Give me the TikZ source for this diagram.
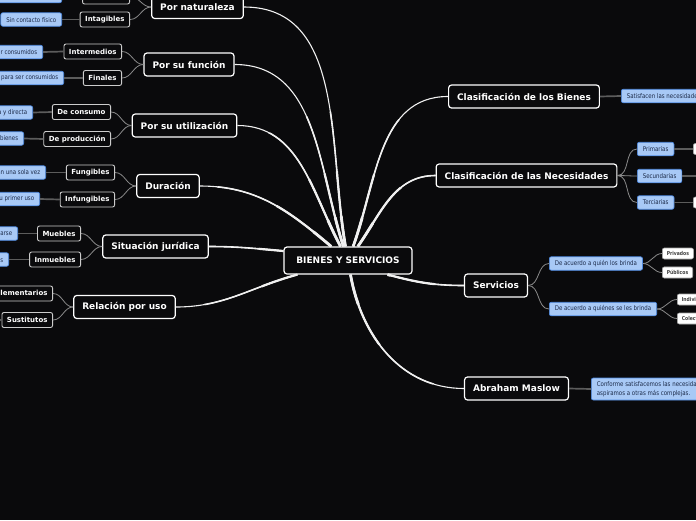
\documentclass[tikz,border=0pt]{standalone}
\usepackage{fontspec}
\setmainfont{DejaVu Sans}
\newfontfamily\notefont[FakeStretch=0.84]{DejaVu Sans}
\definecolor{canvas}{HTML}{0A0A0C}
\definecolor{notefill}{HTML}{A8C9F6}
\definecolor{noteline}{HTML}{4F8BE3}
\definecolor{notetext}{HTML}{1C2A48}
\definecolor{branchgray}{HTML}{8A8A8A}
\definecolor{stubgray}{HTML}{5C5C5C}
% the ten main connectors, drawn once per width
\newcommand{\drawtrunks}[1]{%
    \draw[#1] (naturaleza.east) to[out=0,in=100] (root);
    \draw[#1] (funcion.east) to[out=0,in=108] (root);
    \draw[#1] (utilizacion.east) to[out=0,in=118] (root);
    \draw[#1] (duracion.east) to[out=0,in=140] (root);
    \draw[#1] (situacion.east) to[out=0,in=175] ([yshift=9.5pt]root.west);
    \draw[#1] (relacion.east) to[out=0,in=195] ([xshift=14pt]root.south west);
    \draw[#1] (bienes.west) to[out=180,in=70] (root);
    \draw[#1] (necesidades.west) to[out=180,in=55] (root);
    \draw[#1] (servicios.west) to[out=180,in=-15] ([xshift=-25pt]root.south east);
    \draw[#1] (maslow.west) to[out=180,in=-80] (root);
}
\begin{document}
\begin{tikzpicture}[
        x=1pt, y=1pt,
        root box/.style={
            draw=white,
            line width=1.2pt,
            fill=canvas,
            rounded corners=3pt,
            text=white,
            minimum width=128pt,
            minimum height=27pt,
            font=\bfseries\fontsize{9}{10}\selectfont
        },
        topic box/.style={
            draw=white,
            line width=1.2pt,
            fill=canvas,
            rounded corners=3pt,
            text=white,
            inner xsep=8.5pt,
            minimum height=23pt,
            font=\bfseries\fontsize{9}{10}\selectfont
        },
        sub box/.style={
            draw=white!80!black,
            line width=0.9pt,
            fill=canvas,
            rounded corners=2pt,
            text=white,
            inner xsep=5pt,
            minimum height=15pt,
            font=\bfseries\fontsize{7}{8}\selectfont
        },
        note box/.style={
            draw=noteline,
            line width=0.7pt,
            fill=notefill,
            rounded corners=2pt,
            text=notetext,
            inner xsep=5.5pt,
            minimum height=13.5pt,
            font=\notefont\fontsize{6.5}{8.5}\selectfont
        },
        leaf box/.style={
            draw=white!65!black,
            line width=0.6pt,
            fill=white,
            rounded corners=2pt,
            text=black!75,
            inner xsep=4.5pt,
            minimum height=11pt,
            font=\notefont\bfseries\fontsize{5.4}{6}\selectfont
        },
        trunk/.style={white!94!black, line width=1.1pt},
        branch/.style={branchgray, line width=0.8pt},
        stub/.style={stubgray, line width=1.7pt}
    ]
        \useasboundingbox (0,0) rectangle (696,-520);
        \fill[canvas] (0,0) rectangle (696,-520);
        \clip (0,0) rectangle (696,-520);

        % centre
        \node[root box] (root) at (348,-260.5) {BIENES Y SERVICIOS};

        % left topics
        \node[topic box] (naturaleza) at (197.5,-7) {Por naturaleza};
        \node[topic box] (funcion) at (189,-64.5) {Por su función};
        \node[topic box] (utilizacion) at (184.5,-125.5) {Por su utilización};
        \node[topic box] (duracion) at (168,-186) {Duración};
        \node[topic box] (situacion) at (155.5,-246.5) {Situación jurídica};
        \node[topic box] (relacion) at (124.5,-307) {Relación por uso};

        % right topics
        \node[topic box] (bienes) at (524,-96.5) {Clasificación de los Bienes};
        \node[topic box] (necesidades) at (526.5,-175.5) {Clasificación de las Necesidades};
        \node[topic box] (servicios) at (496,-285.5) {Servicios};
        \node[topic box] (maslow) at (516.5,-388.5) {Abraham Maslow};

        % left sub topics
        \node[sub box, anchor=east, minimum width=47pt] (tangibles) at (130,3.5) {};
        \node[sub box, anchor=east] (intangibles) at (130,-19.5) {Intagibles};
        \node[sub box, anchor=east] (intermedios) at (122,-51.5) {Intermedios};
        \node[sub box, anchor=east] (finales) at (122,-78) {Finales};
        \node[sub box, anchor=east] (consumo) at (111,-112) {De consumo};
        \node[sub box, anchor=east] (produccion) at (111,-139) {De producción};
        \node[sub box, anchor=east] (fungibles) at (115,-172.5) {Fungibles};
        \node[sub box, anchor=east] (infungibles) at (115,-199.5) {Infungibles};
        \node[sub box, anchor=east] (muebles) at (81,-233.5) {Muebles};
        \node[sub box, anchor=east] (inmuebles) at (81,-259.5) {Inmuebles};
        \node[sub box, anchor=east] (complementarios) at (53,-293.5) {Complementarios};
        \node[sub box, anchor=east] (sustitutos) at (53,-320) {Sustitutos};
        \coordinate (sustitutosnote) at (-6,-320);

        % left notes
        \node[note box, anchor=east, minimum width=70pt] (tangiblesnote) at (62,4) {};
        \node[note box, anchor=east] (intangiblesnote) at (62,-19.5) {Sin contacto físico};
        \node[note box, anchor=east] (intermediosnote) at (43,-52) {Se transforman antes de ser consumidos};
        \node[note box, anchor=east] (finalesnote) at (64,-78) {Listos en su forma definitiva para ser consumidos};
        \node[note box, anchor=east] (consumonote) at (33,-112.5) {Satisfacen la necesidad de forma inmediata y directa};
        \node[note box, anchor=east] (produccionnote) at (24,-138.5) {Sirven para producir otros bienes};
        \node[note box, anchor=east] (fungiblesnote) at (46,-172.5) {Se utilizan una sola vez};
        \node[note box, anchor=east] (infungiblesnote) at (40,-199) {No se agotan con su primer uso};
        \node[note box, anchor=east] (mueblesnote) at (18,-233.5) {Pueden trasladarse};
        \node[note box, anchor=east] (inmueblesnote) at (9,-259.5) {Bienes raíces};

        % right notes and leaves
        \node[note box, anchor=west] (bienesnote) at (621,-96) {Satisfacen las necesidades humanas};
        \node[note box, anchor=west] (primarias) at (637,-149) {Primarias};
        \node[note box, anchor=west] (secundarias) at (637,-176) {Secundarias};
        \node[note box, anchor=west] (terciarias) at (637,-202.5) {Terciarias};
        \node[leaf box, anchor=west, minimum width=30pt] (primariasleaf) at (693,-149) {};
        \coordinate (secundariasleaf) at (700,-176);
        \node[leaf box, anchor=west, minimum width=30pt] (terciariasleaf) at (693,-202.5) {};
        \node[note box, anchor=west] (quien) at (549,-263.5) {De acuerdo a quién los brinda};
        \node[note box, anchor=west] (quienes) at (549,-309) {De acuerdo a quiénes se les brinda};
        \node[leaf box, anchor=west] (privados) at (662,-253.5) {Privados};
        \node[leaf box, anchor=west] (publicos) at (662,-272.5) {Públicos};
        \node[leaf box, anchor=west] (individuales) at (677,-299.5) {Individuales};
        \node[leaf box, anchor=west] (colectivos) at (677,-318.5) {Colectivos};
        \node[note box, anchor=west, align=left, minimum height=22pt] (maslownote) at (591,-389)
            {Conforme satisfacemos las necesidades básicas,\\aspiramos a otras más complejas.};

        % trunks, thicker towards the centre
        \drawtrunks{trunk}
        \begin{scope}
            \clip (root) circle (150pt);
            \drawtrunks{trunk, line width=1.6pt}
        \end{scope}
        \begin{scope}
            \clip (root) circle (90pt);
            \drawtrunks{trunk, line width=2.2pt}
        \end{scope}
        \begin{scope}
            \clip (root) circle (45pt);
            \drawtrunks{trunk, line width=2.8pt}
        \end{scope}

        % branches
        \draw[branch] (naturaleza.west) to[out=180,in=0] (tangibles.east);
        \draw[branch] (naturaleza.west) to[out=180,in=0] (intangibles.east);
        \draw[branch] (funcion.west) to[out=180,in=0] (intermedios.east);
        \draw[branch] (funcion.west) to[out=180,in=0] (finales.east);
        \draw[branch] (utilizacion.west) to[out=180,in=0] (consumo.east);
        \draw[branch] (utilizacion.west) to[out=180,in=0] (produccion.east);
        \draw[branch] (duracion.west) to[out=180,in=0] (fungibles.east);
        \draw[branch] (duracion.west) to[out=180,in=0] (infungibles.east);
        \draw[branch] (situacion.west) to[out=180,in=0] (muebles.east);
        \draw[branch] (situacion.west) to[out=180,in=0] (inmuebles.east);
        \draw[branch] (relacion.west) to[out=180,in=0] (complementarios.east);
        \draw[branch] (relacion.west) to[out=180,in=0] (sustitutos.east);
        \draw[branch] (necesidades.east) to[out=0,in=180] (primarias.west);
        \draw[branch] (necesidades.east) to[out=0,in=180] (secundarias.west);
        \draw[branch] (necesidades.east) to[out=0,in=180] (terciarias.west);
        \draw[branch] (servicios.east) to[out=0,in=180] (quien.west);
        \draw[branch] (servicios.east) to[out=0,in=180] (quienes.west);
        \draw[branch] (quien.east) to[out=0,in=180] (privados.west);
        \draw[branch] (quien.east) to[out=0,in=180] (publicos.west);
        \draw[branch] (quienes.east) to[out=0,in=180] (individuales.west);
        \draw[branch] (quienes.east) to[out=0,in=180] (colectivos.west);

        % stubs
        \draw[stub] (tangibles.west) -- (tangiblesnote.east);
        \draw[stub] (intangibles.west) -- (intangiblesnote.east);
        \draw[stub] (intermedios.west) -- (intermediosnote.east);
        \draw[stub] (finales.west) -- (finalesnote.east);
        \draw[stub] (consumo.west) -- (consumonote.east);
        \draw[stub] (produccion.west) -- (produccionnote.east);
        \draw[stub] (fungibles.west) -- (fungiblesnote.east);
        \draw[stub] (infungibles.west) -- (infungiblesnote.east);
        \draw[stub] (muebles.west) -- (mueblesnote.east);
        \draw[stub] (inmuebles.west) -- (inmueblesnote.east);
        \draw[stub] (sustitutos.west) -- (sustitutosnote);
        \draw[stub] (bienes.east) -- (bienesnote.west);
        \draw[stub] (primarias.east) -- (primariasleaf.west);
        \draw[stub] (secundarias.east) -- (secundariasleaf);
        \draw[stub] (terciarias.east) -- (terciariasleaf.west);
        \draw[stub] (maslow.east) -- (maslownote.west);
    \end{tikzpicture}
\end{document}
